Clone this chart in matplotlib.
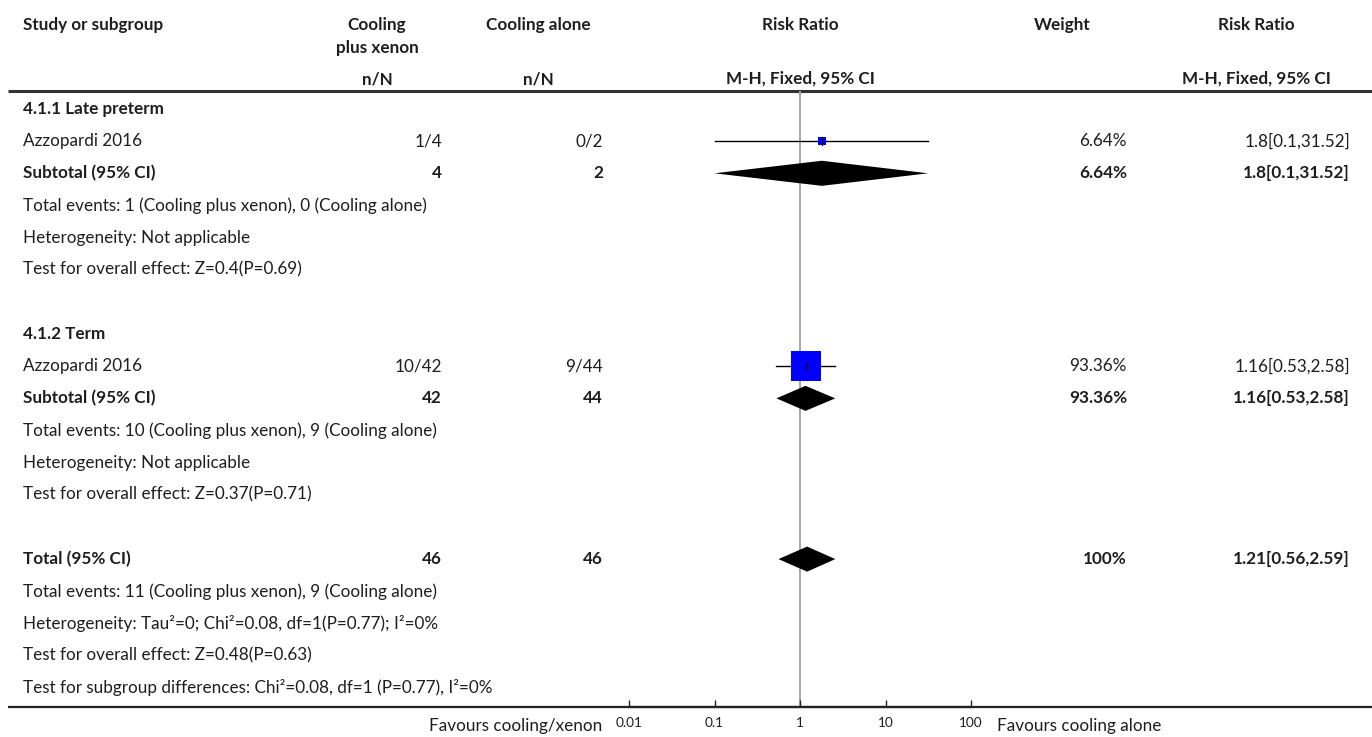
import matplotlib

matplotlib.use("Agg")
import matplotlib.pyplot as plt
import numpy as np

plt.rcParams["font.family"] = ["Lato", "DejaVu Sans"]

# Rows of the table, top to bottom ("" = blank spacer row)
row_labels = [
    "4.1.1 Late preterm",
    "Azzopardi 2016",
    "Subtotal (95% CI)",
    "Total events: 1 (Cooling plus xenon), 0 (Cooling alone)",
    "Heterogeneity: Not applicable",
    "Test for overall effect: Z=0.4(P=0.69)",
    "",
    "4.1.2 Term",
    "Azzopardi 2016",
    "Subtotal (95% CI)",
    "Total events: 10 (Cooling plus xenon), 9 (Cooling alone)",
    "Heterogeneity: Not applicable",
    "Test for overall effect: Z=0.37(P=0.71)",
    "",
    "Total (95% CI)",
    "Total events: 11 (Cooling plus xenon), 9 (Cooling alone)",
    "Heterogeneity: Tau\u00b2=0; Chi\u00b2=0.08, df=1(P=0.77); I\u00b2=0%",
    "Test for overall effect: Z=0.48(P=0.63)",
    "Test for subgroup differences: Chi\u00b2=0.08, df=1 (P=0.77), I\u00b2=0%",
]
bold_rows = [0, 2, 7, 9, 14]

# Individual studies
study_rows = [1, 8]
study_xenon = ["1/4", "10/42"]
study_alone = ["0/2", "9/44"]
study_rr = [1.8, 1.16]
study_lo = [0.1, 0.53]
study_hi = [31.52, 2.58]
study_weight = [6.64, 93.36]

# Subtotals and total
sum_rows = [2, 9, 14]
sum_xenon = ["4", "42", "46"]
sum_alone = ["2", "44", "46"]
sum_rr = [1.8, 1.16, 1.21]
sum_lo = [0.1, 0.53, 0.56]
sum_hi = [31.52, 2.58, 2.59]
sum_weight = ["6.64%", "93.36%", "100%"]

axis_ticks = [0.01, 0.1, 1, 10, 100]
axis_labels = ["0.01", "0.1", "1", "10", "100"]

W, H = 1372, 737
ROW0, ROW_H = 109, 32.15
TXT = "#1e1e1e"
FS = 12.3


def row_y(i):
    return ROW0 + ROW_H * i


def to_row(py):
    return (py - ROW0) / ROW_H


fig = plt.figure(figsize=(W / 100, H / 100), dpi=100)
bg = fig.add_axes([0, 0, 1, 1])
bg.set_xlim(0, W)
bg.set_ylim(H, 0)
bg.axis("off")

# header
hdr = dict(fontsize=FS, fontweight="bold", color=TXT, va="center")
bg.text(23, 25, "Study or subgroup", ha="left", **hdr)
bg.text(377, 25, "Cooling", ha="center", **hdr)
bg.text(377, 48, "plus xenon", ha="center", **hdr)
bg.text(538, 25, "Cooling alone", ha="center", **hdr)
bg.text(800, 25, "Risk Ratio", ha="center", **hdr)
bg.text(1062, 25, "Weight", ha="center", **hdr)
bg.text(1256, 25, "Risk Ratio", ha="center", **hdr)
bg.text(377, 79, "n/N", ha="center", **hdr)
bg.text(538, 79, "n/N", ha="center", **hdr)
bg.text(800, 79, "M-H, Fixed, 95% CI", ha="center", **hdr)
bg.text(1256, 79, "M-H, Fixed, 95% CI", ha="center", **hdr)
bg.plot([8, W], [91, 91], color="#333333", lw=2.2, solid_capstyle="butt")
bg.plot([8, W], [707, 707], color="#222222", lw=1.6, solid_capstyle="butt")

for i, lab in enumerate(row_labels):
    if lab:
        bg.text(23, row_y(i), lab, ha="left", va="center", fontsize=FS, color=TXT,
                fontweight="bold" if i in bold_rows else "normal")

for r, a, b, rr, lo, hi, w in zip(study_rows, study_xenon, study_alone,
                                  study_rr, study_lo, study_hi, study_weight):
    y = row_y(r)
    bg.text(442, y, a, ha="right", va="center", fontsize=FS, color=TXT)
    bg.text(603, y, b, ha="right", va="center", fontsize=FS, color=TXT)
    bg.text(1127, y, f"{w:g}%", ha="right", va="center", fontsize=FS, color=TXT)
    bg.text(1350, y, f"{rr:g}[{lo:g},{hi:g}]", ha="right", va="center", fontsize=FS, color=TXT)

for r, a, b, rr, lo, hi, w in zip(sum_rows, sum_xenon, sum_alone,
                                  sum_rr, sum_lo, sum_hi, sum_weight):
    y = row_y(r)
    kw = dict(ha="right", va="center", fontsize=FS, color=TXT, fontweight="bold")
    bg.text(442, y, a, **kw)
    bg.text(603, y, b, **kw)
    bg.text(1127, y, w, **kw)
    bg.text(1350, y, f"{rr:g}[{lo:g},{hi:g}]", **kw)

# forest panel: 0.01 at x=629, 100 at x=971, spans header line to bottom line
ax = fig.add_axes([629 / W, 1 - 707 / H, (971 - 629) / W, (707 - 91) / H])
ax.set_xscale("log")
ax.set_xlim(0.01, 100)
ax.set_ylim(to_row(707), to_row(91))
ax.patch.set_alpha(0)
for s in ["left", "right", "top"]:
    ax.spines[s].set_visible(False)
ax.spines["bottom"].set_color("#222222")
ax.spines["bottom"].set_linewidth(1.6)
ax.set_yticks([])
ax.set_xticks(axis_ticks)
ax.set_xticklabels(axis_labels)
ax.minorticks_off()
ax.tick_params(axis="x", direction="in", length=5, width=1, color="#222222",
               labelsize=9.8, labelcolor=TXT, pad=7)

ax.axvline(1, color="#a0a0a0", lw=1.3, zorder=0)

big_side = 30 * 0.72  # points, for the largest weight
for r, rr, lo, hi, w in zip(study_rows, study_rr, study_lo, study_hi, study_weight):
    ax.plot([lo, hi], [r, r], color="black", lw=1.0, zorder=2)
    side = big_side * np.sqrt(w / max(study_weight))
    ax.scatter([rr], [r], marker="s", s=side ** 2, color="#0000ff", linewidths=0, zorder=3)
    ax.plot([rr, rr], [r - 0.13, r + 0.13], color="black", lw=0.9, zorder=4)

half_h = 0.39
for r, rr, lo, hi in zip(sum_rows, sum_rr, sum_lo, sum_hi):
    ax.fill([lo, rr, hi, rr], [r, r - half_h, r, r + half_h], color="black", lw=0, zorder=3)

bg.text(602, 726, "Favours cooling/xenon", ha="right", va="center", fontsize=FS, color=TXT)
bg.text(997, 726, "Favours cooling alone", ha="left", va="center", fontsize=FS, color=TXT)

fig.savefig("out.png", dpi=100)
